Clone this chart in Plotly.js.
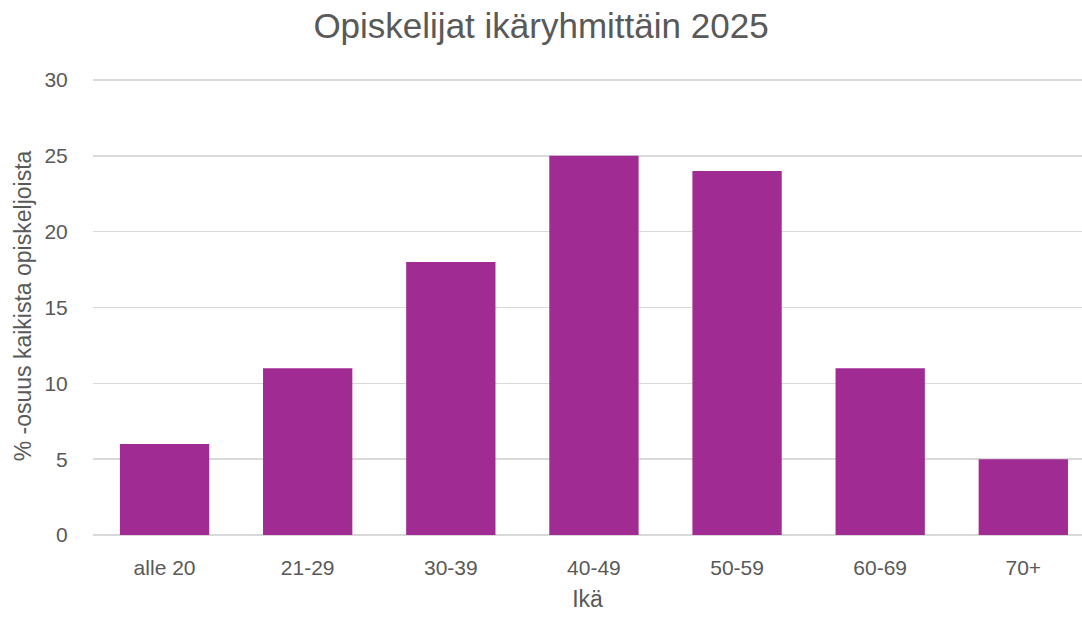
<!DOCTYPE html>
<html>
<head>
<meta charset="utf-8">
<script src="https://cdn.plot.ly/plotly-3.0.1.min.js"></script>
<style>
  html, body { margin: 0; padding: 0; background: #fff; }
  #chart { width: 1082px; height: 618px; }
</style>
</head>
<body>
<div id="chart"></div>
<script>
// Age groups and share of all students (%)
const ageGroups = ["alle 20", "21-29", "30-39", "40-49", "50-59", "60-69", "70+"];
const sharePct = [6, 11, 18, 25, 24, 11, 5];
const yTicks = [0, 5, 10, 15, 20, 25, 30];

const fontFam = "Liberation Sans, Arial, sans-serif";
const textGrey = "#595959";
const gridGrey = "#D9D9D9";

const trace = {
    x: ageGroups,
    y: sharePct,
    type: "bar",
    marker: { color: "#A02B93" },
    hoverinfo: "x+y"
};

const layout = {
    width: 1082,
    height: 618,
    margin: { l: 93, r: 0, t: 77, b: 83 },
    paper_bgcolor: "#fff",
    plot_bgcolor: "#fff",
    font: { family: fontFam, color: textGrey },
    showlegend: false,
    bargap: 0.376,
    title: {
        text: "Opiskelijat ikäryhmittäin 2025",
        font: { size: 35, color: textGrey, family: fontFam },
        x: 0.5,
        xanchor: "center",
        y: 0.958,
        yanchor: "middle"
    },
    xaxis: {
        type: "category",
        range: [-0.5, 6.41],
        showgrid: false,
        zeroline: false,
        showline: false,
        ticks: "outside",
        ticklen: 14,
        tickcolor: "rgba(0,0,0,0)",
        tickfont: { size: 21, color: textGrey },
        title: { text: "Ikä", font: { size: 23, color: textGrey }, standoff: 12 }
    },
    yaxis: {
        range: [0, 30.2],
        tickvals: yTicks,
        showgrid: true,
        gridcolor: gridGrey,
        gridwidth: 1.5,
        zeroline: true,
        zerolinecolor: gridGrey,
        zerolinewidth: 1.5,
        ticks: "outside",
        ticklen: 20,
        tickcolor: "rgba(0,0,0,0)",
        tickfont: { size: 21, color: textGrey },
        title: { text: "% -osuus kaikista opiskeljoista", font: { size: 23, color: textGrey }, standoff: 6 }
    }
};

Plotly.newPlot("chart", [trace], layout, { displayModeBar: false, staticPlot: true });
</script>
</body>
</html>
